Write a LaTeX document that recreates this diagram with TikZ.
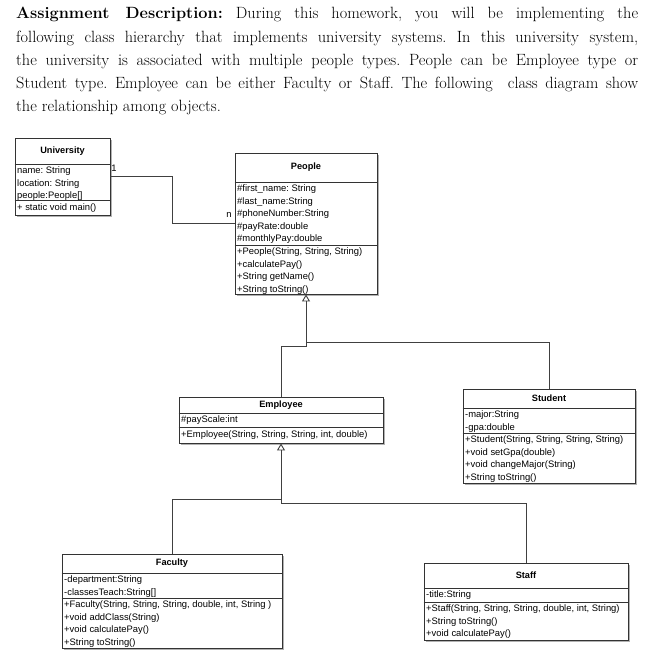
\documentclass[tikz,border=0pt]{standalone}
\usepackage{fontspec}
\setsansfont{Liberation Sans}
\usetikzlibrary{arrows.meta,shadows,fit}
\frenchspacing
\newcommand\umlstrut{\rule[-3.2pt]{0pt}{12.5pt}}
\newcommand\umlclass[8]{%
  \node[classbox, fit={(#2,#3) (#4,#5)}] (#1) {};
  \draw[divider] (#1.west |- 0,#6) -- (#1.east |- 0,#6);
  \draw[divider] (#1.west |- 0,#7) -- (#1.east |- 0,#7);
  \node[titletext] (#1T) at ({(#2+#4)/2},{(#3+#6)/2}) {#8};
}
\begin{document}
\begin{tikzpicture}[x=1pt,y=-1pt,
  classbox/.style={draw=black!80, line width=0.9pt, fill=white, inner sep=0pt,
    drop shadow={shadow xshift=2.2pt, shadow yshift=-2.2pt, fill=black!50, opacity=0.6}},
  divider/.style={draw=black!80, line width=0.8pt},
  titletext/.style={font=\sffamily\bfseries\fontsize{9.2}{11}\selectfont, inner sep=0pt},
  members/.style={font=\sffamily\fontsize{9.4}{12.5}\selectfont, align=left, anchor=north west, inner sep=0pt},
  conn/.style={draw=black!75, line width=0.9pt},
  gen/.style={conn, -{Triangle[open, length=7pt, width=8pt]}},
  lbl/.style={font=\sffamily\fontsize{9.4}{11}\selectfont, inner sep=0pt},
  hdr/.style={font=\fontsize{16.3}{19}\selectfont, anchor=base west, inner sep=0pt}
]
\fill[white] (0,0) rectangle (647,658);
\useasboundingbox (0,0) rectangle (647,658);

% header text
\node[hdr] (h1) at (16,19) {\makebox[622pt][s]{\textbf{Assignment Description:} During this homework, you will be implementing the}};
\node[hdr] (h2) at (16,42.2) {\makebox[622pt][s]{following class hierarchy that implements university systems. In this university system,}};
\node[hdr] (h3) at (16,65.4) {\makebox[622pt][s]{the university is associated with multiple people types. People can be Employee type or}};
\node[hdr] (h4) at (16,88.6) {\makebox[622pt][s]{Student type. Employee can be either Faculty or Staff. The following\ \ class diagram show}};
\node[hdr] (h5) at (16,111.8) {the relationship among objects.};

% classes
\umlclass{uni}{15}{138}{110}{215}{164}{200}{University}
\node[members] (uniA) at (17,164) {\umlstrut name: String\\\umlstrut location: String\\\umlstrut people:People[]};
\node[members] (uniM) at (17,200.5) {\umlstrut + static void main()};

\umlclass{people}{235}{153}{377}{294}{182}{245}{People}
\node[members] (peopleA) at (237,182) {\umlstrut\#first\_name: String\\\umlstrut\#last\_name:String\\\umlstrut\#phoneNumber:String\\\umlstrut\#payRate:double\\\umlstrut\#monthlyPay:double};
\node[members] (peopleM) at (237,245) {\umlstrut+People(String, String, String)\\\umlstrut+calculatePay()\\\umlstrut+String getName()\\\umlstrut+String toString()};

\umlclass{empl}{179}{397}{383}{443}{413}{427}{Employee}
\node[members] (emplA) at (181,413) {\umlstrut\#payScale:int};
\node[members] (emplM) at (181,427.5) {\umlstrut+Employee(String, String, String, int, double)};

\umlclass{stud}{463}{389}{635}{483}{408}{433}{Student}
\node[members] (studA) at (465,408) {\umlstrut-major:String\\\umlstrut-gpa:double};
\node[members] (studM) at (465,433) {\umlstrut+Student(String, String, String, String)\\\umlstrut+void setGpa(double)\\\umlstrut+void changeMajor(String)\\\umlstrut+String toString()};

\umlclass{fac}{62}{554}{282}{648}{573}{598}{Faculty}
\node[members] (facA) at (64,573) {\umlstrut-department:String\\\umlstrut-classesTeach:String[]};
\node[members] (facM) at (64,598) {\umlstrut+Faculty(String, String, String, double, int, String )\\\umlstrut+void addClass(String)\\\umlstrut+void calculatePay()\\\umlstrut+String toString()};

\umlclass{staff}{424}{563}{628}{640}{588}{602}{Staff}
\node[members] (staffA) at (426,588) {\umlstrut-title:String};
\node[members] (staffM) at (426,602) {\umlstrut+Staff(String, String, String, double, int, String)\\\umlstrut+String toString()\\\umlstrut+void calculatePay()};

% association
\draw[conn] (uni.east) -- ++(62,0) |- (people.west);
\node[lbl] (one) at (114,168) {1};
\node[lbl] (many) at (229,215) {n};

% generalizations
\draw[gen] (empl.north) |- (people.south |- 0,346) -- (people.south);
\draw[conn] (stud.north) |- (people.south |- 0,342);
\draw[gen] (fac.north) |- (empl.south |- 0,499) -- (empl.south);
\draw[conn] (staff.north) |- (empl.south |- 0,503) -- (empl.south |- 0,499);
\end{tikzpicture}
\end{document}
